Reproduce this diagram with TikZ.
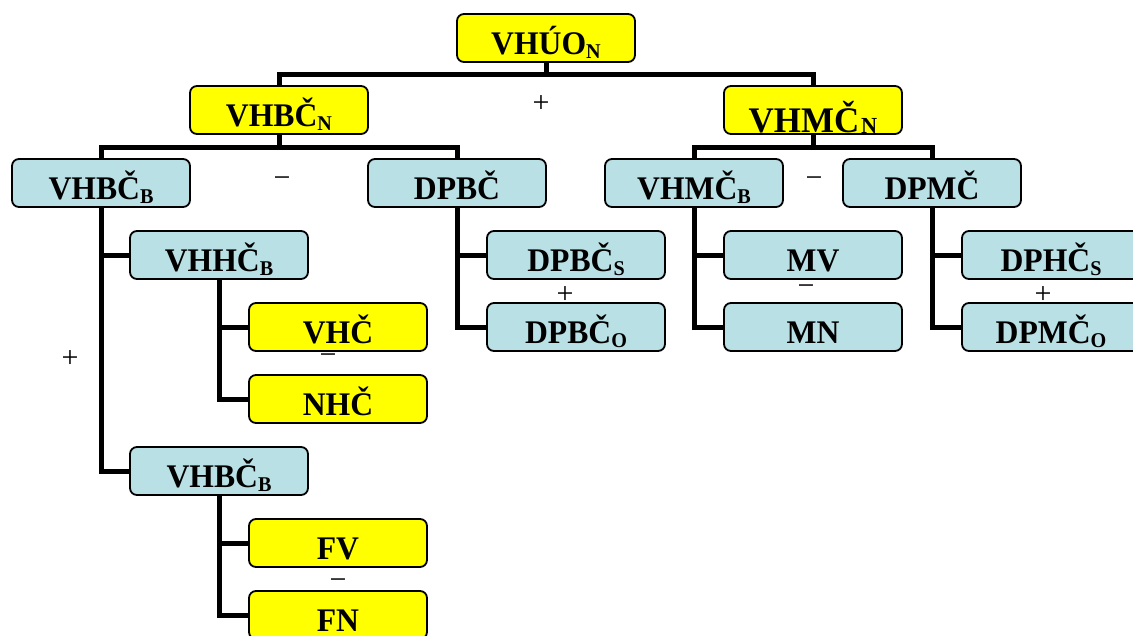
\documentclass[tikz,border=0pt]{standalone}
\usepackage{fontspec}
\setmainfont{Liberation Serif}
\newfontfamily\bx[FakeStretch=0.96]{Liberation Serif}
\newfontfamily\bxw[FakeStretch=0.97]{Liberation Serif}
\definecolor{ylw}{RGB}{255,255,0}
\definecolor{lbl}{RGB}{185,224,228}
\newcommand{\lo}[1]{\raisebox{-4pt}{\fontsize{21}{21}\selectfont #1}}
\begin{document}
\begin{tikzpicture}[x=1pt,y=-1pt,
  box/.style={draw=black, line width=1.8pt, rounded corners=7pt, minimum width=178pt,
    minimum height=48pt, inner sep=0pt, text height=32pt, text depth=0pt,
    font=\bx\bfseries\fontsize{33}{33}\selectfont},
  yb/.style={box, fill=ylw},
  bb/.style={box, fill=lbl},
  conn/.style={line width=5pt, line join=miter},
  sgn/.style={font=\fontsize{30}{30}\selectfont, inner sep=0pt}]
\useasboundingbox (0,0) rectangle (1133,635);
\clip (0,0) rectangle (1133,635);
% nodes
\node[yb] (vhuo) at (546,38) {VHÚO\lo{N}};
\node[yb] (vhbcn) at (279,110) {VHBČ\lo{N}};
\node[yb, text height=45pt, font=\bxw\bfseries\fontsize{36}{36}\selectfont] (vhmcn) at (813,110)
  {VHMČ\kern2pt\raisebox{-1pt}{\fontsize{23}{23}\selectfont N}};
\node[bb] (vhbcb) at (101,183) {VHBČ\lo{B}};
\node[bb] (dpbc) at (457,183) {DPBČ};
\node[bb] (vhmcb) at (694,183) {VHMČ\lo{B}};
\node[bb] (dpmc) at (932,183) {DPMČ};
\node[bb] (vhhcb) at (219,255) {VHHČ\lo{B}};
\node[yb] (vhc) at (338,327) {VHČ};
\node[yb] (nhc) at (338,399) {NHČ};
\node[bb] (vhbcb2) at (219,471) {VHBČ\lo{B}};
\node[yb] (fv) at (338,543) {FV};
\node[yb] (fn) at (338,615) {FN};
\node[bb] (dpbcs) at (576,255) {DPBČ\lo{S}};
\node[bb] (dpbco) at (576,327) {DPBČ\lo{O}};
\node[bb] (mv) at (813,255) {MV};
\node[bb] (mn) at (813,327) {MN};
\node[bb] (dphcs) at (1051,255) {DPHČ\lo{S}};
\node[bb] (dpmco) at (1051,327) {DPMČ\lo{O}};
% connectors
\draw[conn] (vhuo.south) -- ++(0,12) -| (vhbcn.north);
\draw[conn] (vhuo.south) -- ++(0,12) -| (vhmcn.north);
\draw[conn] (vhbcn.south) -- ++(0,13) -| (vhbcb.north);
\draw[conn] (vhbcn.south) -- ++(0,13) -| (dpbc.north);
\draw[conn] (vhmcn.south) -- ++(0,13) -| (vhmcb.north);
\draw[conn] (vhmcn.south) -- ++(0,13) -| (dpmc.north);
\draw[conn] (vhbcb.south) |- (vhhcb.west);
\draw[conn] (vhbcb.south) |- (vhbcb2.west);
\draw[conn] (vhhcb.south) |- (vhc.west);
\draw[conn] (vhhcb.south) |- (nhc.west);
\draw[conn] (vhbcb2.south) |- (fv.west);
\draw[conn] (vhbcb2.south) |- (fn.west);
\draw[conn] (dpbc.south) |- (dpbcs.west);
\draw[conn] (dpbc.south) |- (dpbco.west);
\draw[conn] (vhmcb.south) |- (mv.west);
\draw[conn] (vhmcb.south) |- (mn.west);
\draw[conn] (dpmc.south) |- (dphcs.west);
\draw[conn] (dpmc.south) |- (dpmco.west);
% signs
\node[sgn] (s1) at (541,104) {+};
\node[sgn] (s2) at (282,182) {−};
\node[sgn] (s3) at (814,182) {−};
\node[sgn] (s4) at (565,295) {+};
\node[sgn] (s5) at (806,290) {−};
\node[sgn] (s6) at (1043,295) {+};
\node[sgn] (s7) at (328,359) {−};
\node[sgn] (s8) at (70,359) {+};
\node[sgn] (s9) at (338,584) {−};
\end{tikzpicture}
\end{document}
